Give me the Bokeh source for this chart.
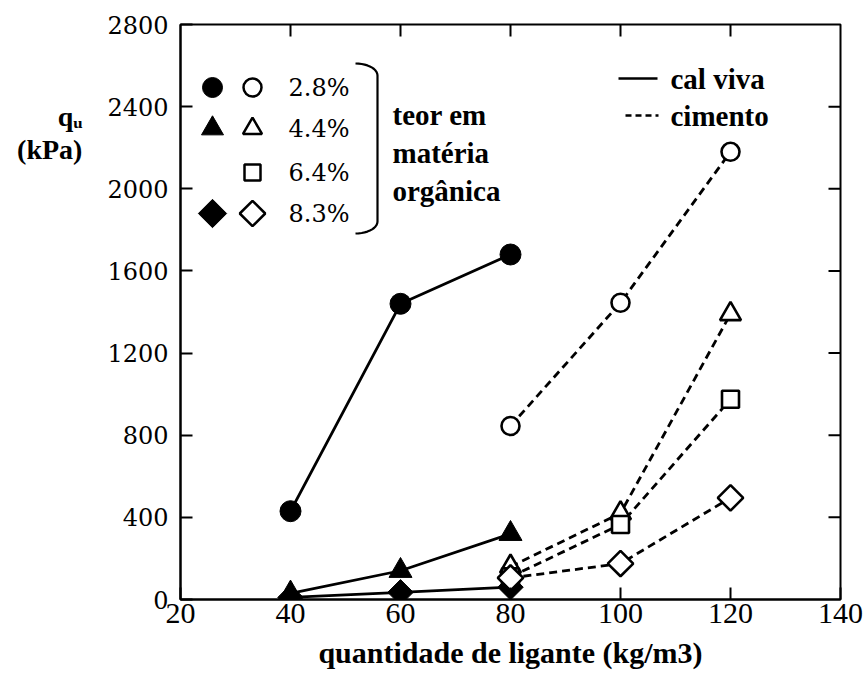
import numpy as np
from bokeh.plotting import figure
from bokeh.models import Label, FixedTicker, Range1d
from bokeh.embed import file_html
from bokeh.resources import INLINE

# ---- data ----
x_lime = [40, 60, 80]
lime_28 = [430, 1440, 1680]
lime_44 = [30, 140, 320]
lime_83 = [10, 35, 60]

x_cem = [80, 100, 120]
cem_28 = [845, 1445, 2180]
cem_44 = [160, 420, 1390]
cem_64 = [110, 365, 975]
cem_83 = [105, 175, 495]

x_ticks = [20, 40, 60, 80, 100, 120, 140]
y_ticks = [0, 400, 800, 1200, 1600, 2000, 2400, 2800]
pct_labels = ["2.8%", "4.4%", "6.4%", "8.3%"]
y_title_lines = ["qᵤ", "(kPa)"]

# ---- layout ----
W, H = 867, 675
L, R, T, B = 180, 27, 24, 76
FW, FH = W - L - R, H - T - B
X0, X1, Y0, Y1 = 20, 140, 0, 2800
TICK = 12


def px(xp):
    return X0 + (xp - L) * (X1 - X0) / FW


def py(yp):
    return Y0 + (T + FH - yp) * (Y1 - Y0) / FH


p = figure(width=W, height=H, x_range=Range1d(X0, X1), y_range=Range1d(Y0, Y1),
           output_backend="svg", toolbar_location=None,
           min_border_left=L, min_border_right=R, min_border_top=T, min_border_bottom=B)
p.grid.visible = False
p.outline_line_color = "black"
p.outline_line_width = 2
p.background_fill_color = "white"
p.border_fill_color = "white"

xa = p.xaxis[0]
xa.ticker = FixedTicker(ticks=x_ticks)
xa.major_tick_in = TICK
xa.major_tick_out = 0
xa.minor_tick_line_color = None
xa.major_tick_line_width = 2
xa.axis_line_width = 2
xa.major_label_text_font = "Liberation Serif"
xa.major_label_text_font_size = "30px"
xa.major_label_text_color = "black"
xa.major_label_standoff = 4
xa.axis_label = "quantidade de ligante (kg/m3)"
xa.axis_label_text_font = "Liberation Serif"
xa.axis_label_text_font_style = "bold"
xa.axis_label_text_font_size = "30px"
xa.axis_label_text_color = "black"
xa.axis_label_standoff = 10

ya = p.yaxis[0]
ya.ticker = FixedTicker(ticks=y_ticks)
ya.major_tick_in = TICK
ya.major_tick_out = 0
ya.minor_tick_line_color = None
ya.major_tick_line_width = 2
ya.axis_line_width = 2
ya.major_label_text_font = "DejaVu Serif"
ya.major_label_text_font_size = "24px"
ya.major_label_text_color = "black"
ya.major_label_standoff = 12
# horizontal two-line title; trailing blank lines lift it towards the top of the axis
ya.axis_label = "\n".join(y_title_lines + [" "] * 11)
ya.axis_label_orientation = "horizontal"
ya.axis_label_text_font = "Liberation Serif"
ya.axis_label_text_font_style = "bold"
ya.axis_label_text_font_size = "28px"
ya.axis_label_text_line_height = 1.05
ya.axis_label_text_align = "center"
ya.axis_label_text_color = "black"
ya.axis_label_standoff = 22

# inward ticks on the top and right edges
top_x = x_ticks[1:-1]
p.segment(x0=top_x, y0=[Y1] * len(top_x), x1=top_x, y1=[Y1 - TICK * (Y1 - Y0) / FH] * len(top_x),
          line_color="black", line_width=2)
right_y = y_ticks[1:-1]
p.segment(x0=[X1] * len(right_y), y0=right_y, x1=[X1 - TICK * (X1 - X0) / FW] * len(right_y), y1=right_y,
          line_color="black", line_width=2)

LW = 2.8
DASH = "8 5"

# lime (solid)
for ys in (lime_28, lime_44, lime_83):
    p.line(x_lime, ys, line_color="black", line_width=LW)
# cement (dashed)
for ys in (cem_28, cem_44, cem_64, cem_83):
    p.line(x_cem, ys, line_color="black", line_width=LW, line_dash=DASH)

# lime markers (filled)
p.scatter(x_lime, lime_28, marker="circle", size=21, fill_color="black", line_color="black")
p.scatter(x_lime, lime_44, marker="triangle", size=23, fill_color="black", line_color="black")
p.scatter(x_lime, lime_83, marker="square", angle=np.pi / 4, size=18, fill_color="black", line_color="black")

# cement markers (open)
p.scatter(x_cem, cem_28, marker="circle", size=18, fill_color="white", line_color="black", line_width=2.6)
p.scatter(x_cem, cem_44, marker="triangle", size=21, fill_color="white", line_color="black", line_width=2.6)
p.scatter(x_cem, cem_64, marker="square", size=17, fill_color="white", line_color="black", line_width=2.6)
p.scatter(x_cem, cem_83, marker="square", angle=np.pi / 4, size=18, fill_color="white", line_color="black", line_width=2.6)

# ---- legend (manual) ----
rows_y = [87, 128, 172, 213]
fx, ox, tx = 212, 252, 288
p.scatter([px(fx)], [py(rows_y[0])], marker="circle", size=20, fill_color="black", line_color="black")
p.scatter([px(ox)], [py(rows_y[0])], marker="circle", size=18, fill_color="white", line_color="black", line_width=2.5)
p.scatter([px(fx)], [py(rows_y[1])], marker="triangle", size=22, fill_color="black", line_color="black")
p.scatter([px(ox)], [py(rows_y[1])], marker="triangle", size=19, fill_color="white", line_color="black", line_width=2.5)
p.scatter([px(ox)], [py(rows_y[2])], marker="square", size=16, fill_color="white", line_color="black", line_width=2.5)
p.scatter([px(fx)], [py(rows_y[3])], marker="square", angle=np.pi / 4, size=20, fill_color="black", line_color="black")
p.scatter([px(ox)], [py(rows_y[3])], marker="square", angle=np.pi / 4, size=18, fill_color="white", line_color="black", line_width=2.5)
for ry, lab in zip(rows_y, pct_labels):
    p.add_layout(Label(x=px(tx), y=py(ry), text=lab, text_font="DejaVu Serif", text_font_size="24px",
                       text_baseline="middle", text_align="left", text_color="black"))

# bracket
t = np.linspace(0, np.pi / 2, 12)
bx_top = 355 + 22 * np.sin(t)
by_top = 63 + 12 * (1 - np.cos(t))
bx_bot = bx_top[::-1]
by_bot = 233 - 12 * (1 - np.cos(t[::-1]))
bxs = list(bx_top) + list(bx_bot)
bys = list(by_top) + list(by_bot)
p.line([px(v) for v in bxs], [py(v) for v in bys], line_color="black", line_width=2.2)

for txt, ty in (("teor em", 114), ("matéria", 152), ("orgânica", 190)):
    p.add_layout(Label(x=px(392), y=py(ty), text=txt, text_font="Liberation Serif", text_font_style="bold",
                       text_font_size="29px", text_baseline="middle", text_align="left", text_color="black"))

# binder legend
p.line([px(618), px(657)], [py(78), py(78)], line_color="black", line_width=2.5)
p.line([px(625), px(658)], [py(115), py(115)], line_color="black", line_width=2.5, line_dash="6 4")
p.add_layout(Label(x=px(670), y=py(78), text="cal viva", text_font="Liberation Serif", text_font_style="bold",
                   text_font_size="29px", text_baseline="middle", text_align="left", text_color="black"))
p.add_layout(Label(x=px(670), y=py(115), text="cimento", text_font="Liberation Serif", text_font_style="bold",
                   text_font_size="29px", text_baseline="middle", text_align="left", text_color="black"))

open("out.html", "w").write(file_html(p, INLINE))
